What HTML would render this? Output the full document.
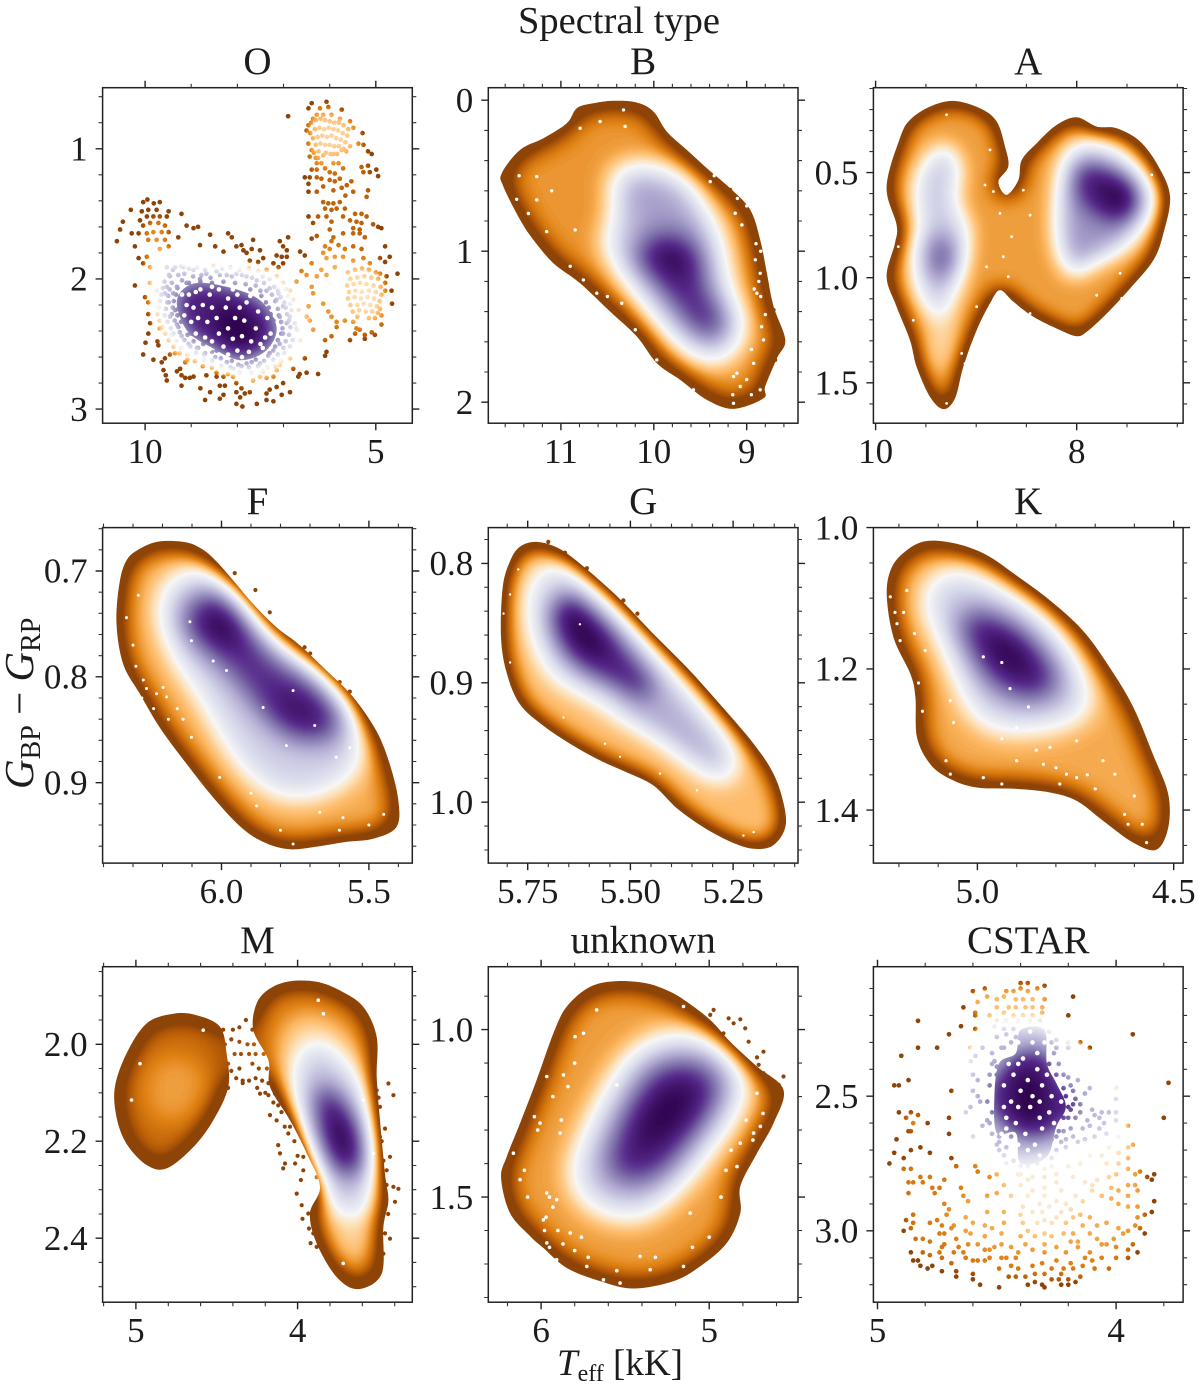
<!DOCTYPE html>
<html lang="en"><head><meta charset="utf-8"><title>Spectral type density panels</title>
<style>html,body{margin:0;padding:0;background:#fff}svg{display:block}text{font-family:"Liberation Serif",serif;fill:#1c1c1c}</style></head>
<body>
<svg id="chart" xmlns="http://www.w3.org/2000/svg" width="1200" height="1390" viewBox="0 0 1200 1390">
<defs id="defs"></defs>
<text x="619" y="33" font-size="38.5" text-anchor="middle">Spectral type</text>
<text transform="translate(33,789) rotate(-90)" font-size="41"><tspan font-style="italic">G</tspan><tspan font-size="28" dy="7">BP</tspan><tspan dy="-7"> − </tspan><tspan font-style="italic">G</tspan><tspan font-size="28" dy="7">RP</tspan></text>
<text x="557" y="1375" font-size="37"><tspan font-style="italic">T</tspan><tspan font-size="24" dy="6">eff</tspan><tspan dy="-6"> [kK]</tspan></text>
<g id="panels"></g>
</svg>
<script>
// PuOr colour map stops
const cmapStops=['#7f3b08','#b35806','#e08214','#fdb863','#fee0b6','#f7f7f7','#d8daeb','#b2abd2','#8073ac','#542788','#2d004b'];

// ---------- O ----------
const oColumn=[[6.57,.626],[5.49,.703],[4.91,1.138],[4.7,1.804],[4.62,2.419],[5.63,2.547],[6.28,2.547],[6.57,1.65]];
const oLobe=[[10.11,1.497],[9.39,1.471],[9.35,1.804],[9.96,1.855],[10.25,1.7]];
const oRing=[[10.04,1.65],[9.39,1.625],[9.24,1.83],[8.23,1.804],[7.51,1.855],[6.65,1.855],[6.36,1.727],[5.63,1.804],[5.35,1.983],[5.63,2.316],[6.21,2.419],[6.5,2.675],[7.22,2.854],[7.8,2.931],[8.23,2.777],[9.17,2.726],[9.68,2.572],[10.04,2.291],[10.18,1.907]];
const oTopSpot=[[6.46,.729],[5.49,.754],[5.35,.985],[5.92,1.113],[6.46,1.06]];
const oLink=[[6.36,1.804],[5.56,1.804],[5.35,1.983],[5.85,2.06],[6.36,1.983]];
const oRightSpot=[[5.63,1.906],[4.84,1.958],[4.73,2.239],[5.35,2.355],[5.71,2.163]];
const oPale=[[9.53,1.83],[8.95,1.881],[8.09,1.907],[7.22,1.983],[6.79,2.214],[6.65,2.47],[7.22,2.649],[8.02,2.726],[8.81,2.598],[9.39,2.47],[9.75,2.163],[9.75,1.932]];
const oCore=[[8.95,2.035],[8.23,2.06],[7.51,2.163],[7.15,2.368],[7.37,2.547],[7.94,2.624],[8.59,2.521],[9.1,2.393],[9.31,2.163]];
const oDeep=[[8.38,2.214],[7.73,2.291],[7.58,2.444],[8.02,2.521],[8.45,2.367]];
const oPoints=[[6.39,.65],[6.46,.69],[6.07,.64],[6.03,.68],[6.21,.69],[5.74,.7],[6.28,.74],[6.14,.74],[5.96,.74],[5.78,.77],[5.56,.79],[5.49,.84],[6.46,.82],[6.36,.77],[6.5,.86],[6.46,.96],[6.39,1.01],[6.43,1.06],[6.25,1.07],[6.14,1.05],[5.92,1.04],[5.74,1.01],[5.56,.98],[5.29,.88],[5.38,.96],[5.27,.97],[5.17,1.02],[5.09,1.04],[5.31,1.14],[5.17,1.13],[4.99,1.16],[4.95,1.21],[5.27,1.18],[5.13,1.18],[6.9,.75],
[6.28,1.11],[6.18,1.11],[6.1,1.15],[5.92,1.11],[5.81,1.11],[5.71,1.15],[6.39,1.16],[6.28,1.16],[6,1.18],[5.89,1.19],[6.54,1.22],[6.43,1.22],[6.28,1.22],[6.18,1.23],[6,1.24],[5.89,1.25],[5.78,1.23],[5.53,1.25],[6.46,1.27],[6.14,1.29],[5.92,1.32],[5.74,1.3],[5.63,1.28],[6.46,1.33],[6.28,1.33],[5.66,1.36],[5.49,1.33],[5.17,1.32],[5.2,1.37],
[6.14,1.41],[6.03,1.42],[5.92,1.42],[5.78,1.41],[6.1,1.46],[5.96,1.47],[5.85,1.46],[5.67,1.46],[5.45,1.5],[5.31,1.5],[5.2,1.52],[6.46,1.52],[6.25,1.52],[6.07,1.52],[5.71,1.52],[5.56,1.55],[5.42,1.56],[5.31,1.57],[6.36,1.57],[5.96,1.56],[5.49,1.61],[5.35,1.62],[5.06,1.58],[4.95,1.6],[4.88,1.61],[6.28,1.67],[6.39,1.69],[6,1.62],[5.92,1.68],[5.96,1.71],[5.71,1.65],[5.49,1.65],[5.35,1.65],[5.24,1.68],
[6.1,1.75],[6,1.77],[5.81,1.74],[5.67,1.77],[5.49,1.75],[5.31,1.77],[4.8,1.75],[6.64,1.79],[6.54,1.82],[6.14,1.8],[6.07,1.84],[5.89,1.83],[5.71,1.83],[5.49,1.86],[5.27,1.84],[5.13,1.88],[4.91,1.84],[4.7,1.83],[4.53,1.96],[4.8,1.87],
[6.39,1.88],[6.18,1.93],[6.07,1.97],[5.89,1.91],[6.61,1.94],[6.5,1.97],[6.28,1.98],[6.72,2.02],[6.39,2.06],[6.14,2.19],[6.03,2.25],[5.96,2.29],[5.85,2.33],[6.36,2.11],[6.46,2.21],[6.43,2.32],[6.36,2.39],[6.1,2.47],[5.96,2.44],[5.85,2.37],[5.67,2.32],[5.49,2.33],[5.42,2.38],[5.35,2.39],[5.24,2.43],[5.24,2.46],[5.56,2.47],[5.45,2.42],[5.09,2.41],[5.02,2.43],[4.88,2.35],[6.1,2.59],[6.07,2.56],[6.25,2.73],
[4.8,2.03],[4.8,2.09],[4.66,2.09],[4.65,2.19],[4.88,2.28],[4.91,2.23],[5.02,2.3],[4.77,1.98],[4.91,1.96],
[7.08,1.71],[6.9,1.68],[7.01,1.75],[6.93,1.78],[7.15,1.82],[7.04,1.83],[6.93,1.83],[7.01,1.88],[7.11,1.91],[7.22,1.88],[7.51,1.78],[7.66,1.7],[7.69,1.77],[7.8,1.8],[7.73,1.86],[7.55,1.87],[7.44,1.84],[8.02,1.75],[7.91,1.74],[7.87,1.78],[8.2,1.65],[8.12,1.68],[8.3,1.79],[8.48,1.75],[8.59,1.66],[8.81,1.74],[8.85,1.6],[8.95,1.61],[9.1,1.59],[9.21,1.5],[9.28,1.68],
[7.15,1.98],[7.37,1.93],[7.01,2.03],[6.86,2.09],[7.11,2.11],[6.79,2.16],[6.68,2.24],[6.5,2.29],[6.86,2.29],[6.72,2.38],[6.65,2.47],[6.86,2.52],[6.54,2.61],[6.86,2.61],[7.08,2.66],[7.15,2.7],[6.79,2.69],[6.65,2.73],[6.5,2.72],[6.68,2.75],[6.86,2.87],[7.01,2.8],[7.15,2.83],[7.3,2.85],[7.37,2.88],[7.22,2.94],[7.37,2.93],[7.58,2.96],[7.04,2.89],[7.51,2.75],[7.37,2.76],[7.66,2.78],[7.22,2.75],
[8.02,2.8],[7.91,2.84],[8.02,2.87],[7.84,2.88],[7.94,2.91],[7.73,2.87],[8.02,2.96],[7.89,2.98],[8.3,2.89],[8.38,2.92],[8.7,2.93],[8.8,2.84],[8.59,2.87],[8.38,2.82],[8.27,2.82],[8.67,2.74],[8.45,2.75],[8.3,2.75],[8.09,2.75],
[10.04,2.58],[9.99,2.49],[9.73,2.48],[9.71,2.51],[9.93,2.42],[9.82,2.62],[9.64,2.64],[9.57,2.61],[9.46,2.58],[9.35,2.57],[9.6,2.7],[9.55,2.74],[9.53,2.78],[9.31,2.71],[9.21,2.74],[9.13,2.76],[9.03,2.76],[8.95,2.75],[9.21,2.82],[9.24,2.69],[9.13,2.64],
[10.22,2.05],[10,2.14],[9.93,2.18],[9.93,2.27],[9.89,2.34],[9.68,2.38],[9.89,2.03],[9.75,2.09],[9.57,2.11],[10.14,1.84],[10.04,1.88],[9.89,1.91],[9.96,1.83],[10.22,1.75],
[10.61,1.71],[10.54,1.62],[10.48,1.56],[10.31,1.47],[10.29,1.65],[10.14,1.65],[10.04,1.41],[9.95,1.39],[9.81,1.42],[9.68,1.41],[10.07,1.48],[9.93,1.47],[9.75,1.47],[9.49,1.48],[10.11,1.55],[9.96,1.52],[9.82,1.52],[9.68,1.52],[9.53,1.52],[10.04,1.59],[9.89,1.57],[9.71,1.57],[9.57,1.59],[9.96,1.65],[9.82,1.64],[9.64,1.64],[9.49,1.64],[9.93,1.7],[9.75,1.7],[9.57,1.7],[9.68,1.77],[9.49,1.75],
[9.53,1.91],[9.35,1.91],[9.17,1.91],[8.95,1.93],[9.46,1.98],[9.28,1.97],[9.53,2.06],[9.39,2.11],[9.49,2.18],[9.35,2.24],[9.46,2.29],[9.31,2.35],[9.39,2.42],[9.21,2.44],[9.06,2.5],[8.88,2.53],[8.7,2.57],[8.48,2.6],[8.23,2.64],[8.09,2.69],[7.91,2.67],[7.69,2.64],[7.51,2.65],[7.33,2.59],[7.22,2.55],[7.08,2.5],[7.01,2.42],[6.93,2.34],[7.08,2.29],[7.01,2.21],[7.15,2.16],[7.37,2.09],[7.58,2.01],[7.8,1.98],[8.02,1.96],[8.23,1.97],[8.45,1.94],[8.67,1.96],[8.81,2],[9.1,2.03],[9.31,2.06],[9.24,2.24],[9.17,2.32],[8.99,2.42],[8.74,2.5],[8.45,2.55],[8.16,2.57],[7.8,2.65]];
const oRingPoints=[[9.4,1.93],[9.22,1.9],[9.05,1.92],[8.87,1.91],[8.7,1.93],[8.52,1.9],[8.33,1.92],[8.15,1.91],[7.95,1.93],[7.75,1.92],[7.55,1.94],
[9.48,1.97],[9.15,1.96],[8.96,1.98],[8.78,1.97],[8.58,1.99],[8.38,1.97],[8.12,1.98],[7.9,1.97],[7.68,1.99],[7.45,1.98],[7.3,2],
[9.58,2.02],[9.42,2.03],[9.2,2.01],[9.05,2.03],[8.8,2.02],[8.55,2.03],[8.3,2.02],[8.05,2.03],[7.82,2.04],[7.6,2.05],[7.42,2.03],[7.2,2.06],
[9.62,2.07],[9.47,2.08],[9.3,2.07],[9.12,2.09],[7.72,2.08],[7.5,2.09],[7.3,2.07],[7.12,2.09],[6.95,2.08],
[9.65,2.12],[9.5,2.13],[9.33,2.12],[7.48,2.13],[7.25,2.12],[7.06,2.14],[6.9,2.13],
[9.68,2.17],[9.52,2.18],[9.38,2.17],[7.38,2.18],[7.18,2.17],[6.98,2.18],[6.85,2.19],
[9.7,2.22],[9.55,2.23],[9.4,2.22],[9.28,2.23],[7.32,2.22],[7.12,2.23],[6.95,2.22],[6.82,2.24],
[9.72,2.27],[9.58,2.28],[9.42,2.27],[9.3,2.28],[7.28,2.27],[7.1,2.28],[6.92,2.27],
[9.68,2.32],[9.52,2.33],[9.36,2.32],[9.22,2.33],[7.22,2.32],[7.05,2.33],[6.88,2.32],[6.75,2.34],
[9.62,2.37],[9.45,2.38],[9.28,2.37],[7.02,2.38],[6.85,2.37],[6.7,2.39],
[9.55,2.42],[9.42,2.43],[9.25,2.41],[9.08,2.43],[7.05,2.42],[6.88,2.43],
[9.48,2.47],[9.32,2.48],[9.15,2.47],[8.95,2.48],[7.12,2.47],[6.95,2.48],[6.8,2.47],
[9.38,2.52],[9.22,2.53],[9.02,2.52],[8.85,2.53],[7.18,2.52],[7,2.53],[6.85,2.52],
[9.25,2.57],[9.08,2.58],[8.9,2.57],[8.72,2.58],[8.55,2.56],[7.3,2.57],[7.12,2.58],[6.98,2.57],
[9.08,2.62],[8.92,2.63],[8.72,2.62],[8.55,2.63],[8.36,2.61],[8.12,2.63],[7.6,2.62],[7.42,2.63],[7.22,2.62],[7.05,2.63],
[8.75,2.67],[8.55,2.68],[8.35,2.67],[8.15,2.68],[7.98,2.66],[7.75,2.68],[7.55,2.67],[7.35,2.68],[7.18,2.67],
[8.45,2.72],[8.2,2.73],[7.95,2.72],[7.7,2.72],[7.45,2.71]];
const oCapPoints=[[6.4,.8],[6.3,.78],[6.2,.77],[6.1,.78],[6,.79],[5.9,.8],[5.8,.8],[5.7,.82],[5.6,.85],[6.42,.88],[6.32,.85],[6.22,.84],[6.12,.85],[6.02,.84],[5.92,.85],[5.82,.86],[5.72,.88],[5.62,.9],[6.36,.92],[6.26,.91],[6.16,.9],[6.06,.91],[5.96,.9],[5.86,.92],[5.76,.93],[5.66,.95],[6.3,.97],[6.2,.96],[6.1,.97],[6,.97],[5.9,.98],[5.8,.98],[5.7,1],[6.34,1.03],[6.24,1.02],[6.08,1.03],[5.98,1.04],[5.84,1.04],[5.64,1.02],[6.3,1.07]];
const oSpotPoints=[[5.6,1.95],[5.45,1.93],[5.3,1.92],[5.15,1.93],[5,1.95],[5.55,2],[5.4,1.99],[5.25,1.98],[5.1,1.99],[4.95,2],[5.62,2.05],[5.48,2.04],[5.34,2.03],[5.2,2.04],[5.05,2.05],[4.9,2.06],[5.58,2.1],[5.44,2.09],[5.3,2.1],[5.15,2.09],[5,2.1],[4.88,2.12],[5.6,2.15],[5.46,2.14],[5.32,2.15],[5.18,2.14],[5.04,2.15],[4.92,2.17],[5.55,2.2],[5.4,2.2],[5.26,2.19],[5.12,2.2],[4.98,2.21],[5.5,2.25],[5.36,2.24],[5.22,2.25],[5.08,2.25],[4.96,2.26],[5.4,2.29],[5.15,2.3]];
const oSpecks=[[8.9,2.1],[8.75,2.2],[8.6,2.12],[8.4,2.08],[8.2,2.15],[8,2.12],[7.8,2.18],[7.55,2.25],[8.85,2.3],[8.65,2.33],[8.45,2.3],[8.25,2.22],[8.05,2.3],[7.85,2.32],[7.6,2.38],[8.7,2.45],[8.4,2.42],[8.2,2.38],[8.1,2.46],[7.9,2.44],[7.7,2.48],[8.95,2.22],[9,2.33],[8.55,2.22],[7.4,2.45],[7.95,2.22],[8.3,2.52],[7.75,2.56],[8,2.55],[7.5,2.5],[8.55,2.48],[9.1,2.2],[9.2,2.12],[9.05,2.12],[8.8,2.08],[8.55,2.06],[8.1,2.08],[7.72,2.13],[7.35,2.3],[7.28,2.42],[7.45,2.53],[7.9,2.6],[8.2,2.58],[8.6,2.54],[8.9,2.42],[9.15,2.28]];

// ---------- B ----------
const bEdge=[[10.434,.004],[10.183,.015],[10.004,.075],[9.86,.208],[9.645,.329],[9.429,.45],[9.178,.583],[8.962,.726],[8.855,.925],[8.783,1.146],[8.711,1.366],[8.585,1.587],[8.675,1.709],[8.801,1.896],[8.819,1.974],[9.142,2.044],[9.429,1.985],[9.716,1.852],[9.968,1.742],[10.183,1.565],[10.47,1.4],[10.794,1.212],[11.081,1.079],[11.296,.925],[11.44,.792],[11.619,.572],[11.637,.483],[11.44,.329],[11.189,.252],[10.937,.152],[10.829,.053],[10.65,.02]];
const bWhite=[[10.183,.435],[9.86,.472],[9.609,.572],[9.429,.748],[9.285,.925],[9.178,1.256],[9.052,1.477],[9.142,1.653],[9.357,1.731],[9.645,1.653],[9.932,1.477],[10.183,1.278],[10.399,1.102],[10.524,.925],[10.434,.804],[10.417,.682],[10.434,.528],[10.345,.45]];
const bLobe=[[10.183,.506],[9.86,.528],[9.609,.682],[9.429,.925],[9.968,.903],[10.255,.792],[10.327,.594]];
const bCore=[[10.075,.903],[9.716,.903],[9.465,1.035],[9.429,1.234],[9.214,1.455],[9.285,1.565],[9.537,1.554],[9.824,1.344],[10.039,1.19],[10.219,1.035]];
const bDeep=[[10.004,.969],[9.716,.947],[9.537,1.035],[9.645,1.146],[9.968,1.102]];
const bSpecks=[[11.476,.656],[11.26,.66],[11.153,.87],[10.847,.859],[10.578,.141],[10.309,.174],[9.393,.539],[9.124,.748],[9.052,.826],[8.908,1.057],[8.89,1.278],[8.819,1.587],[8.926,1.742],[9.106,1.808],[8.855,1.918],[9.142,2.007],[10.345,1.344],[10.614,1.278],[10.758,1.19],[9.968,1.72],[9.573,1.918],[11.26,.506],[10.327,.064],[10.794,.185],[8.855,1.146],[9.142,1.83],[9.07,1.896],[8.85,1],[8.9,.95],[8.87,1.2],[8.92,1.25],[8.85,1.3],[8.8,1.42],[8.84,1.5],[8.95,1.65],[9,1.85],[8.95,1.95],[9.15,1.95],[9,.7],[9.1,.65],[9.35,.5],[10.1,1.7],[10.2,1.52],[10.5,1.3],[10.9,1.1],[11.35,.75],[11.1,.6],[11.45,.5]];
const bStrays=[[8.639,1.543],[8.693,1.72],[8.711,1.389],[9.178,.594]];

// ---------- A ----------
const aEdge=[[9.227,.159],[8.962,.194],[8.796,.257],[8.713,.376],[8.68,.471],[8.779,.543],[8.697,.606],[8.58,.535],[8.547,.44],[8.398,.36],[8.199,.273],[8,.237],[7.801,.281],[7.602,.289],[7.37,.352],[7.187,.471],[7.071,.614],[7.138,.789],[7.237,.916],[7.469,1.051],[7.701,1.17],[7.9,1.257],[8,1.278],[8.166,1.249],[8.431,1.186],[8.63,1.114],[8.763,1.059],[8.862,1.122],[8.995,1.249],[9.128,1.424],[9.211,1.575],[9.327,1.625],[9.459,1.567],[9.592,1.424],[9.658,1.297],[9.791,1.138],[9.891,.995],[9.808,.837],[9.791,.749],[9.891,.567],[9.758,.336],[9.658,.249],[9.459,.186]];
const aTail=[[9.459,1.186],[9.227,1.186],[9.294,1.424],[9.426,1.424]];
const aWhiteLeft=[[9.31,.376],[9.177,.471],[9.211,.63],[9.095,.773],[9.144,.948],[9.227,1.09],[9.376,1.186],[9.559,1.075],[9.609,.916],[9.559,.757],[9.592,.614],[9.559,.503],[9.426,.408]];
const aSpot=[[9.343,.789],[9.177,.868],[9.227,.979],[9.41,1.011],[9.509,.916],[9.459,.813]];
const aWhiteRight=[[7.934,.36],[7.635,.392],[7.37,.503],[7.254,.63],[7.37,.773],[7.569,.868],[7.834,.932],[8.033,.987],[8.166,.884],[8.199,.725],[8.166,.519],[8.1,.416]];
const aLobe=[[8.033,.503],[7.536,.71],[7.569,.805],[7.867,.884],[8.033,.916],[8.1,.757]];
const aCore=[[7.967,.456],[7.635,.479],[7.403,.567],[7.386,.678],[7.569,.741],[7.834,.694],[8,.598]];
const aDeep=[[7.735,.551],[7.469,.583],[7.502,.678],[7.735,.646]];
const aSpecks=[[9.294,.225],[8.862,.392],[8.912,.559],[8.829,.59],[8.531,.583],[8.763,.694],[8.647,.805],[8.73,.9],[8.68,.995],[8.464,.702],[8.896,.948],[9.144,1.36],[9.111,1.408],[8.995,1.138],[8.464,1.17],[7.801,1.083],[7.569,.979],[7.552,1.098],[7.254,.511],[9.625,1.202],[9.294,1.598],[9.774,.852]];

// ---------- F ----------
const fEdge=[[6.209,.672],[6.119,.673],[6.062,.68],[6.017,.691],[5.96,.709],[5.893,.731],[5.814,.753],[5.735,.77],[5.644,.794],[5.554,.819],[5.475,.851],[5.43,.882],[5.4,.917],[5.407,.942],[5.486,.953],[5.577,.956],[5.667,.96],[5.769,.963],[5.859,.956],[5.938,.941],[6.028,.914],[6.119,.882],[6.209,.848],[6.277,.816],[6.333,.788],[6.356,.75],[6.346,.712],[6.322,.69],[6.277,.679]];
const fWhite=[[6.085,.699],[6.017,.704],[5.938,.725],[5.859,.753],[5.769,.775],[5.667,.794],[5.577,.822],[5.537,.854],[5.537,.882],[5.599,.901],[5.701,.912],[5.791,.912],[5.881,.898],[5.96,.873],[6.028,.841],[6.085,.813],[6.141,.791],[6.198,.753],[6.203,.725],[6.158,.706]];
const fCore=[[6.073,.721],[5.983,.723],[5.904,.747],[5.814,.781],[5.701,.8],[5.611,.826],[5.588,.851],[5.667,.863],[5.78,.857],[5.87,.835],[5.96,.803],[6.04,.781],[6.113,.762],[6.135,.74]];
const fDeepA=[[6.06,.735],[5.98,.735],[5.93,.76],[5.98,.772],[6.06,.76]];
const fDeepB=[[5.8,.815],[5.68,.825],[5.66,.845],[5.74,.848],[5.82,.832]];
const fSpecks=[[6.107,.748],[6.102,.766],[6.028,.785],[5.983,.794],[5.859,.829],[5.757,.813],[5.684,.846],[5.78,.865],[5.611,.876],[5.565,.867],[6.198,.81],[6.254,.811],[6.102,.857],[6.322,.744],[6.282,.723],[6.006,.895],[5.881,.922],[5.757,.958],[5.588,.933],[5.667,.928],[6.186,.819],[6.22,.816],[6.265,.803],[6.15,.83],[6.13,.84],[6.27,.82],[6.23,.83],[6.18,.84],[6.29,.79],[6.3,.77],[5.9,.91],[5.8,.945],[5.6,.945],[5.5,.94],[5.45,.93]];
const fStrays=[[5.955,.702],[5.885,.718],[5.836,.739],[5.718,.772],[5.699,.778],[5.565,.814],[5.599,.805]];

// ---------- G ----------
const gEdge=[[5.728,.782],[5.671,.788],[5.606,.805],[5.525,.83],[5.444,.859],[5.363,.887],[5.282,.918],[5.2,.951],[5.152,.976],[5.127,1.001],[5.123,1.021],[5.152,1.036],[5.2,1.039],[5.257,1.033],[5.322,1.021],[5.387,1.005],[5.444,.986],[5.509,.975],[5.574,.965],[5.647,.951],[5.712,.936],[5.769,.918],[5.801,.892],[5.815,.862],[5.811,.82],[5.793,.798],[5.769,.786]];
const gWhite=[[5.679,.802],[5.631,.809],[5.558,.831],[5.485,.856],[5.403,.887],[5.322,.92],[5.257,.951],[5.245,.973],[5.282,.982],[5.338,.972],[5.42,.951],[5.509,.932],[5.606,.912],[5.688,.895],[5.732,.867],[5.748,.837],[5.732,.812]];
const gLobe=[[5.444,.898],[5.363,.926],[5.298,.954],[5.282,.971],[5.338,.962],[5.444,.937],[5.525,.92]];
const gCore=[[5.663,.824],[5.606,.834],[5.541,.856],[5.485,.879],[5.436,.904],[5.485,.911],[5.558,.901],[5.631,.887],[5.679,.867],[5.696,.842]];
const gDeep=[[5.663,.837],[5.606,.842],[5.55,.867],[5.59,.879],[5.647,.865]];
const gSpecks=[[5.793,.883],[5.773,.805],[5.562,.951],[5.525,.962],[5.338,.99],[5.225,1.028],[5.2,1.025],[5.663,.929],[5.793,.826],[5.623,.851],[5.809,.842],[5.428,.976]];
const gStrays=[[5.7,.782],[5.606,.804],[5.517,.831],[5.483,.842],[5.659,.791]];

// ---------- K ----------
const kEdge=[[5.129,1.019],[5.053,1.023],[4.976,1.039],[4.9,1.068],[4.815,1.103],[4.731,1.146],[4.663,1.198],[4.603,1.254],[4.553,1.321],[4.514,1.377],[4.514,1.425],[4.544,1.456],[4.603,1.446],[4.68,1.415],[4.747,1.387],[4.815,1.375],[4.9,1.37],[5.002,1.368],[5.069,1.356],[5.12,1.335],[5.154,1.297],[5.158,1.24],[5.171,1.207],[5.214,1.155],[5.231,1.094],[5.218,1.056],[5.18,1.032]];
const kWhite=[[5.069,1.063],[5.002,1.068],[4.917,1.094],[4.832,1.127],[4.764,1.174],[4.722,1.226],[4.722,1.259],[4.781,1.278],[4.866,1.287],[4.951,1.285],[5.01,1.264],[5.044,1.226],[5.086,1.169],[5.129,1.117],[5.12,1.079]];
const kCore=[[5.027,1.115],[4.951,1.122],[4.875,1.15],[4.807,1.193],[4.79,1.226],[4.841,1.245],[4.917,1.24],[4.976,1.217],[5.019,1.179],[5.048,1.141]];
const kDeep=[[4.968,1.146],[4.9,1.155],[4.849,1.188],[4.875,1.212],[4.942,1.198],[4.981,1.169]];
const kSpecks=[[5.188,1.12],[5.18,1.089],[5.133,1.174],[5.069,1.245],[5.061,1.276],[4.917,1.228],[4.87,1.254],[4.985,1.183],[4.938,1.191],[4.938,1.299],[4.832,1.335],[4.815,1.311],[4.773,1.349],[4.747,1.354],[4.79,1.363],[4.65,1.349],[4.625,1.406],[4.616,1.42],[4.569,1.446],[4.938,1.363],[4.985,1.354],[5.069,1.349],[5.205,1.136],[4.747,1.302],[4.9,1.283],[5.222,1.098],[5.197,1.16],[4.72,1.35],[4.7,1.37],[4.68,1.33],[4.8,1.34],[4.6,1.38],[4.58,1.42],[4.9,1.33],[5.15,1.22],[5.14,1.26],[5.16,1.15],[5.21,1.12],[4.85,1.315],[5.08,1.33]];

// ---------- M ----------
const mLeftBlob=[[4.769,1.937],[4.625,1.94],[4.48,1.964],[4.439,2.019],[4.429,2.088],[4.522,2.157],[4.645,2.212],[4.81,2.256],[4.934,2.249],[5.058,2.205],[5.12,2.15],[5.13,2.088],[5.058,2.019],[4.934,1.957]];
const mLeftInner=[[4.769,2.019],[4.604,2.04],[4.563,2.088],[4.666,2.15],[4.831,2.164],[4.934,2.129],[4.944,2.067],[4.872,2.033]];
const mMain=[[4.047,1.87],[3.882,1.871],[3.738,1.889],[3.594,1.923],[3.511,1.985],[3.511,2.067],[3.491,2.157],[3.46,2.267],[3.439,2.322],[3.47,2.377],[3.48,2.473],[3.625,2.505],[3.759,2.48],[3.882,2.411],[3.924,2.349],[3.862,2.294],[3.944,2.225],[4.047,2.157],[4.171,2.088],[4.181,2.033],[4.274,1.971],[4.254,1.916],[4.171,1.885]];
const mBridge=[[4.46,1.964],[4.315,1.951],[4.212,1.999],[4.171,2.04],[4.212,2.074],[4.336,2.078],[4.429,2.074],[4.47,2.04],[4.491,1.999]];
const mCream=[[3.944,1.937],[3.759,1.957],[3.594,2.033],[3.532,2.17],[3.522,2.363],[3.573,2.432],[3.676,2.452],[3.79,2.404],[3.841,2.329],[3.924,2.239],[4.068,2.115],[4.13,2.026],[4.068,1.957]];
const mWhite=[[3.882,1.999],[3.738,2.033],[3.614,2.088],[3.553,2.17],[3.532,2.274],[3.594,2.335],[3.676,2.353],[3.8,2.322],[3.882,2.267],[3.965,2.184],[4.006,2.088],[3.986,2.033]];
const mCore=[[3.841,2.081],[3.697,2.122],[3.594,2.191],[3.594,2.253],[3.697,2.277],[3.821,2.232],[3.882,2.164],[3.893,2.102]];
const mDeep=[[3.8,2.136],[3.697,2.164],[3.645,2.212],[3.728,2.239],[3.81,2.191]];
const mStrays=[[4.233,2.102],[4.181,2.105],[4.14,2.102],[4.12,2.126],[4.171,2.146],[4.13,2.157],[4.047,2.17],[4.058,2.184],[4.12,2.208],[4.109,2.225],[4.078,2.246],[4.089,2.256],[4.016,2.246],[3.965,2.232],[3.965,2.26],[3.882,2.274],[4.006,2.308],[3.975,2.332],[3.934,2.349],[3.903,2.37],[3.903,2.39],[3.882,2.418],[3.439,2.081],[3.408,2.105],[3.511,2.095],[3.491,2.129],[3.46,2.174],[3.429,2.232],[3.408,2.294],[3.377,2.298],[3.398,2.325],[3.429,2.401],[3.47,2.432],[3.47,2.342],[3.491,2.191],[3.449,2.26],
[4.46,1.97],[4.4,1.97],[4.36,1.965],[4.32,1.95],[4.28,1.97],[4.45,2],[4.41,1.99],[4.36,1.995],[4.31,2],[4.27,2],[4.22,1.99],[4.48,2.02],[4.43,2.04],[4.39,2.02],[4.35,2.02],[4.3,2.02],[4.26,2.02],[4.21,2.02],[4.17,2.03],[4.46,2.05],[4.41,2.055],[4.36,2.05],[4.28,2.04],[4.24,2.05],[4.19,2.05],[4.44,2.07],[4.38,2.07],[4.34,2.075],[4.3,2.075],[4.26,2.07],[4.22,2.075],[4.18,2.08],[4.43,2.09],[4.34,2.08],[4.25,2.09],[4.2,2.1],[4.15,2.12],[4.1,2.14],[4.08,2.17],[4.02,2.2],[4,2.23],[3.98,2.28],[3.97,2.36],[3.93,2.38],[3.92,2.41],[3.48,2.2],[3.47,2.24],[3.45,2.29],[3.44,2.35],[3.46,2.39],[3.49,2.47],[3.52,2.09],[3.5,2.11]];
const mSpecks=[[4.975,2.04],[5.027,2.115],[3.841,1.937],[3.872,1.909],[3.594,2.115],[3.532,2.225],[3.718,2.452],[4.584,1.971]];

// ---------- unknown ----------
const uEdge=[[5.55,.855],[5.371,.862],[5.232,.887],[5.133,.917],[4.994,.971],[4.875,1.036],[4.716,1.11],[4.558,1.18],[4.617,1.279],[4.716,1.369],[4.815,1.468],[4.815,1.548],[4.895,1.637],[5.054,1.707],[5.212,1.751],[5.45,1.773],[5.649,1.751],[5.847,1.712],[5.986,1.652],[6.065,1.617],[6.185,1.548],[6.238,1.443],[6.204,1.379],[6.125,1.279],[6.026,1.15],[5.927,1.011],[5.847,.931],[5.708,.872]];
const uWhite=[[5.173,1.016],[4.974,1.036],[4.835,1.1],[4.786,1.17],[4.855,1.259],[4.994,1.359],[5.153,1.458],[5.331,1.538],[5.47,1.563],[5.669,1.538],[5.788,1.478],[5.808,1.409],[5.728,1.299],[5.609,1.18],[5.49,1.09],[5.351,1.036]];
const uCore=[[5.212,1.09],[5.034,1.1],[4.925,1.16],[4.974,1.24],[5.133,1.349],[5.292,1.439],[5.49,1.463],[5.619,1.418],[5.569,1.309],[5.45,1.19],[5.351,1.12]];
const uDeep=[[5.212,1.16],[5.073,1.17],[5.113,1.269],[5.292,1.339],[5.411,1.359],[5.431,1.279],[5.331,1.2]];
const uSpecks=[[5.798,1.021],[5.867,1.135],[5.748,1.011],[5.966,1.14],[6.006,1.279],[5.887,1.309],[5.966,1.488],[5.907,1.508],[5.986,1.568],[5.827,1.607],[5.966,1.637],[5.907,1.687],[5.728,1.707],[5.629,1.747],[5.53,1.757],[5.351,1.717],[5.153,1.707],[4.736,1.309],[4.815,1.339],[4.696,1.289],[4.716,1.19],[5.153,.931],[5.669,.941],[5.55,1.165],[6.125,1.448],[6.165,1.369],[5.113,1.548],[4.835,1.409],[5.411,1.677],[5.95,1.5],[5.93,1.53],[5.97,1.56],[5.9,1.6],[5.87,1.64],[5.8,1.66],[5.76,1.62],[5.72,1.68],[5.95,1.65],[5.98,1.6],[6.1,1.42],[6.08,1.5],[6.02,1.3],[6.04,1.26],[5.93,1.2],[5.88,1.27],[5.8,1.1],[5.84,1.17],[4.78,1.27],[4.74,1.33],[4.87,1.36],[4.9,1.42],[4.93,1.5],[4.68,1.25],[5,1.62],[5.1,1.65],[5.32,1.68],[5.55,1.72]];
const uStrays=[[4.994,.956],[4.885,.966],[4.815,.969],[4.786,.996],[4.855,.981],[4.974,.941],[4.766,1.036],[4.716,1.083],[4.677,1.066],[4.706,1.105],[4.558,1.14],[4.587,1.165],[4.677,1.13],[4.915,1.011]];

// ---------- CSTAR ----------
const cLower=[[4.93,2.712],[4.42,2.712],[3.94,2.588],[3.84,2.835],[3.86,3.021],[3.98,3.182],[4.29,3.219],[4.65,3.182],[4.88,3.095],[4.93,2.897]];
const cMiddle=[[4.65,2.873],[3.94,2.736],[3.89,2.96],[4.08,3.072],[4.43,3.084],[4.65,3.022]];
const cCream=[[4.46,2.712],[3.95,2.613],[3.95,2.712],[4.07,2.848],[4.18,2.935],[4.29,3.01],[4.4,2.96],[4.46,2.824]];
const cTop=[[4.63,2.093],[4.28,2.068],[4.28,2.254],[4.51,2.254],[4.65,2.18]];
const cLeft=[[4.93,2.538],[4.77,2.551],[4.79,2.65],[4.89,2.662]];
const cPale=[[4.54,2.242],[4.23,2.254],[3.98,2.452],[3.97,2.6],[4.21,2.712],[4.51,2.736],[4.68,2.613],[4.64,2.34]];
const cCore=[[4.42,2.34],[4.29,2.34],[4.23,2.439],[4.14,2.526],[4.21,2.6],[4.3,2.65],[4.4,2.65],[4.51,2.575],[4.53,2.464]];
const cDeep=[[4.42,2.427],[4.32,2.439],[4.31,2.575],[4.41,2.575]];
const cDense=[[4.4,2.254],[4.3,2.254],[4.29,2.378],[4.25,2.452],[4.21,2.538],[4.25,2.613],[4.29,2.724],[4.4,2.749],[4.42,2.637],[4.5,2.637],[4.51,2.501],[4.49,2.378],[4.42,2.34]];
const cPoints=[[4.6,2.11],[4.55,2.1],[4.58,2.15],[4.54,2.13],[4.64,2.17],[4.59,2.19],[4.59,2.2],[4.5,2.14],[4.5,2.17],[4.53,2.2],[4.5,2.22],[4.51,2.24],[4.46,2.11],[4.43,2.11],[4.4,2.08],[4.37,2.08],[4.4,2.1],[4.37,2.11],[4.3,2.09],[4.33,2.1],[4.47,2.13],[4.42,2.14],[4.39,2.14],[4.35,2.14],[4.3,2.14],[4.45,2.17],[4.42,2.17],[4.38,2.17],[4.35,2.17],[4.31,2.17],[4.47,2.19],[4.43,2.2],[4.39,2.2],[4.35,2.2],[4.31,2.19],[4.46,2.22],[4.41,2.22],[4.36,2.22],[4.32,2.22],
[4.18,2.13],[4.2,2.2],[3.93,2.27],[4.83,2.22],[4.7,2.27],[4.65,2.24],[4.59,2.25],[4.83,2.32],[4.75,2.32],[4.9,2.35],[4.87,2.44],[4.93,2.46],[4.91,2.46],[3.78,2.45],[3.8,2.58],
[4.25,2.29],[4.25,2.32],[4.2,2.3],[4.2,2.32],[4.15,2.3],[4.11,2.32],[4.61,2.32],[4.56,2.32],[4.59,2.35],[4.61,2.37],[4.6,2.42],[4.58,2.44],[4.69,2.48],[4.6,2.48],[4.58,2.5],[4.57,2.52],[4.61,2.54],[4.63,2.56],[4.53,2.42],[4.54,2.59],[4.56,2.61],[4.7,2.58],[4.6,2.65],
[4.2,2.43],[4.16,2.44],[4.11,2.47],[4.19,2.46],[4.18,2.53],[4.15,2.53],[4.2,2.58],[4.2,2.54],[4.12,2.59],[4.1,2.55],[4.09,2.57],[4.06,2.56],[4,2.47],[4,2.51],[4,2.56],[4,2.59],[4.22,2.63],[4.19,2.62],[4.18,2.65],[4.25,2.65],[4.23,2.67],[4.16,2.67],[4.11,2.61],[4.09,2.65],[4.07,2.62],[4.05,2.6],[4.29,2.7],
[3.95,2.61],[3.99,2.65],[4.03,2.69],[4.06,2.72],[4.11,2.72],[4.04,2.75],[3.99,2.71],[3.95,2.69],[3.93,2.68],[3.95,2.73],[3.99,2.75],[3.95,2.77],[4,2.79],[3.9,2.78],[3.84,2.79],[3.87,2.8],[3.85,2.81],[3.92,2.79],
[4.08,2.81],[4.1,2.83],[4.1,2.85],[4.06,2.87],[4.03,2.8],[4.02,2.84],[3.99,2.85],[4.02,2.88],[3.95,2.83],[3.92,2.83],[3.95,2.87],[3.91,2.85],[3.99,2.9],[3.95,2.91],[3.91,2.91],[3.84,2.89],[3.85,2.93],[3.88,2.94],[3.91,2.95],[3.92,2.98],[3.9,2.99],[3.88,3.01],
[3.95,3],[3.99,2.99],[3.97,3.01],[4.01,3.03],[4.04,3.05],[4,3.06],[3.93,3.05],[3.95,3.07],[3.91,3.08],[3.95,3.1],[4,3.1],[4.06,3.1],[4.03,3.14],[4.09,3.14],[4.14,3.13],
[4.4,2.79],[4.37,2.81],[4.4,2.83],[4.35,2.85],[4.3,2.84],[4.3,2.87],[4.25,2.82],[4.23,2.85],[4.21,2.9],[4.25,2.89],[4.19,2.92],[4.23,2.93],[4.39,2.91],[4.35,2.93],[4.31,2.93],[4.4,2.94],[4.39,2.97],[4.33,2.97],[4.3,2.96],[4.27,2.97],[4.3,3.01],[4.21,2.97],[4.18,2.95],[4.15,2.94],[4.11,2.95],[4.14,2.98],[4.08,2.98],[4.04,2.97],[4.22,3.01],[4.19,3.04],[4.16,3.04],[4.11,3.01],[4.37,3],
[4.38,3.05],[4.35,3.07],[4.3,3.05],[4.3,3.08],[4.25,3.06],[4.21,3.08],[4.16,3.06],[4.11,3.08],[4.42,3.1],[4.46,3.1],[4.35,3.13],[4.31,3.12],[4.25,3.11],[4.22,3.14],[4.19,3.12],[4.34,3.16],[4.3,3.16],[4.27,3.14],[4.23,3.16],[4.45,3.17],[4.38,3.17],[4.24,3.18],[4.2,3.18],[4.15,3.17],[4.31,3.2],[4.37,3.2],[4.23,3.2],[4.2,3.2],[4.17,3.19],[4.49,3.21],[4.3,3.21],
[4.95,2.75],[4.93,2.71],[4.92,2.66],[4.89,2.73],[4.86,2.7],[4.82,2.69],[4.78,2.71],[4.89,2.77],[4.86,2.77],[4.87,2.82],[4.85,2.82],[4.82,2.8],[4.81,2.82],[4.78,2.8],[4.72,2.81],[4.87,2.86],[4.77,2.84],[4.74,2.84],[4.76,2.86],[4.65,2.84],[4.64,2.87],[4.72,2.9],[4.7,2.92],[4.62,2.89],[4.71,2.94],[4.88,2.96],[4.85,2.94],[4.85,2.97],[4.89,3],[4.86,2.99],[4.78,2.97],[4.75,2.96],[4.73,2.98],[4.74,3.01],[4.69,2.99],[4.68,2.98],[4.84,3.03],[4.81,3.03],[4.78,3.04],[4.72,3.01],[4.72,3.05],[4.73,3.06],
[4.86,3.08],[4.74,3.08],[4.85,3.11],[4.83,3.11],[4.73,3.1],[4.82,3.13],[4.79,3.14],[4.77,3.13],[4.73,3.15],[4.69,3.12],[4.67,3.15],[4.67,3.17],
[4.67,3.03],[4.66,3.06],[4.64,3.08],[4.63,3.1],[4.6,3.11],[4.58,3.11],[4.6,3.16],[4.6,3.18],[4.57,3.2],[4.63,3],[4.61,3.01],[4.58,3.05],[4.55,3.07],[4.53,3.07],[4.51,3.06],[4.53,3.1],[4.55,3.11],[4.48,3.1],[4.49,3.14],[4.44,3.13],[4.41,3.14],[4.6,2.97],[4.55,2.98],[4.52,2.99],[4.47,2.97],[4.48,3.01],[4.54,2.93],[4.47,2.93],[4.63,2.95],[4.48,3.05],
[4.58,2.78],[4.53,2.8],[4.5,2.79],[4.41,2.79],[4.5,2.86],[4.47,2.83],[4.44,2.87],[4.54,2.87],[4.69,2.73],[4.67,2.76],[4.59,2.76],
[4.91,2.56],[4.86,2.56],[4.83,2.57],[4.88,2.58],[4.85,2.6],[4.86,2.63],[4.87,2.63],[4.79,2.6],[4.7,2.64],
[4.49,2.67],[4.46,2.69],[4.49,2.7],[4.44,2.65],[4.49,2.65],[4.5,2.28],[4.46,2.27],[4.47,2.32],[4.44,2.3],[4.51,2.37],[4.5,2.39]];
const cExtraPoints=[[4.52,2.38],[4.5,2.42],[4.53,2.46],[4.5,2.5],[4.54,2.52],[4.52,2.56],[4.49,2.6],[4.53,2.6],[4.5,2.68],[4.47,2.72],[4.52,2.64],[4.46,2.75],[4.43,2.74],[4.48,2.32],[4.52,2.34],[4.42,2.28],[4.43,2.25],[4.47,2.25],[4.28,2.26],[4.27,2.3],[4.26,2.34],[4.28,2.38],[4.24,2.38],[4.22,2.42],[4.25,2.42],[4.22,2.47],[4.18,2.48],[4.21,2.5],[4.17,2.51],[4.19,2.55],[4.15,2.56],[4.22,2.58],[4.17,2.58],[4.24,2.63],[4.21,2.66],[4.27,2.66],[4.25,2.7],[4.21,2.69],[4.27,2.73],[4.13,2.49],[4.14,2.62],[4.13,2.66],[4.07,2.58],[4.04,2.64],[4.03,2.56],[4.33,2.75],[4.37,2.76],[4.3,2.77],[4.27,2.76],[4.4,2.76],[4.35,2.8],[4.3,2.8],[4.25,2.79],[4.2,2.76],[4.18,2.8],[4.15,2.75],[4.13,2.82],[4.17,2.87],[4.14,2.89],[4.28,2.91],[4.32,2.9],[4.37,2.87],[4.25,2.95],[4.34,3.02],[4.27,3.02],[4.18,3.01],[4.08,3.03],[4.4,3.02],[4.55,3.02],[4.62,3.05],[4.68,3.08],[4.78,3.09],[4.81,3.08],[4.44,3.06],[4.41,3.08],[4.13,3.1],[4.06,3.05],[4.1,3.11],[4.18,3.14],[4.27,3.18],[4.34,3.19],[4.42,3.17]];
const cSpecks=[[4.47,2.46],[4.44,2.52],[4.46,2.58],[4.43,2.42],[4.39,2.36],[4.35,2.3],[4.37,2.44],[4.33,2.4],[4.31,2.46],[4.27,2.5],[4.36,2.54],[4.32,2.58],[4.28,2.56],[4.38,2.64],[4.34,2.68],[4.31,2.62],[4.36,2.26],[4.33,2.34],[4.3,2.3],[4.42,2.6],[4.4,2.48],[4.35,2.5],[4.45,2.38],[4.48,2.64],[4.32,2.72],[4.37,2.7],[4.26,2.6],[4.23,2.52],[4.47,2.54],[4.41,2.68],[4.41,2.3],[4.41,2.38],[4.41,2.54],[4.29,2.42],[4.32,2.52],[4.46,2.62],[4.43,2.7]];

// Panel axis limits, ticks and titles
const panelTitles=['O','B','A','F','G','K','M','unknown','CSTAR'];
const xLimits=[[10.92,4.21],[11.782,8.448],[10.022,6.942],[6.403,5.353],[5.846,5.092],[5.265,4.476],[5.206,3.291],[6.314,4.472],[5.017,3.719]];
const yLimits=[[.531,3.108],[-.083,2.139],[.096,1.692],[.659,.976],[.77,1.051],[1,1.475],[1.84,2.532],[.812,1.814],[2.019,3.265]];
const xTicks=[[10,5],[11,10,9],[10,8],[6,5.5],[5.75,5.5,5.25],[5,4.5],[5,4],[6,5],[5,4]];
const xTickLabels=[['10','5'],['11','10','9'],['10','8'],['6.0','5.5'],['5.75','5.50','5.25'],['5.0','4.5'],['5','4'],['6','5'],['5','4']];
const yTicks=[[1,2,3],[0,1,2],[.5,1,1.5],[.7,.8,.9],[.8,.9,1],[1,1.2,1.4],[2,2.2,2.4],[1,1.5],[2.5,3]];
const yTickLabels=[['1','2','3'],['0','1','2'],['0.5','1.0','1.5'],['0.7','0.8','0.9'],['0.8','0.9','1.0'],['1.0','1.2','1.4'],['2.0','2.2','2.4'],['1.0','1.5'],['2.5','3.0']];
const xMinorSteps=[1,.2,.5,.1,.05,.1,.2,.2,.2];
const yMinorSteps=[.2,.2,.1,.02,.02,.05,.05,.1,.1];
// Density layers: [contour, density level]
const densityLayers=[
 [[oColumn,.3],[oLobe,.34],[oRing,.36],[oLink,.38],[oTopSpot,.43],[oRightSpot,.45],[oPale,.66],[oCore,.92],[oDeep,1]],
 [[bEdge,.36],[bWhite,.64],[bLobe,.72],[bCore,.92],[bDeep,1]],
 [[aEdge,.37],[aTail,.45],[aWhiteLeft,.63],[aSpot,.82],[aWhiteRight,.63],[aLobe,.74],[aCore,.93],[aDeep,1]],
 [[fEdge,.38],[fWhite,.62],[fCore,.9],[fDeepA,1],[fDeepB,.97]],
 [[gEdge,.4],[gWhite,.6],[gLobe,.7],[gCore,.92],[gDeep,1]],
 [[kEdge,.38],[kWhite,.62],[kCore,.92],[kDeep,1]],
 [[mLeftBlob,.31],[mLeftInner,.37],[mBridge,.27],[mMain,.33],[mCream,.43],[mWhite,.64],[mCore,.93],[mDeep,1]],
 [[uEdge,.37],[uWhite,.63],[uCore,.92],[uDeep,1]],
 [[cLower,.33],[cLeft,.36],[cMiddle,.38],[cTop,.4],[cCream,.47],[cPale,.66],[cCore,.92],[cDeep,1]]
];
const filledShapes=[[oCore],[bEdge],[aEdge],[fEdge],[gEdge],[kEdge],[mLeftBlob,mMain],[uEdge],[cDense]];
const loosePoints=[oPoints.concat(oRingPoints,oCapPoints,oSpotPoints),bStrays,[],fStrays,gStrays,[],mStrays,uStrays,cPoints.concat(cExtraPoints)];
const gapPoints=[oSpecks,bSpecks,aSpecks,fSpecks,gSpecks,kSpecks,mSpecks,uSpecks,cSpecks];
const blurWidths=[9,14,11,14,12,14,12,15,9];
const gapRadii=[2.3,1.7,1.4,1.5,1.2,1.6,1.8,1.8,2.3];

const colLeft=[102.6,488.3,873.4];
const rowTop=[87.7,527.6,966.7];
const boxW=309.7,boxH=335.5;
const NS='http://www.w3.org/2000/svg';
const root=document.getElementById('panels');
const defs=document.getElementById('defs');

function hexRgb(h){return [1,3,5].map(i=>parseInt(h.substr(i,2),16)/255);}
function cmap(c){
  const p=Math.max(0,Math.min(1,c))*(cmapStops.length-1);
  const i=Math.min(Math.floor(p),cmapStops.length-2),f=p-i;
  const a=hexRgb(cmapStops[i]),b=hexRgb(cmapStops[i+1]);
  return a.map((v,k)=>v+(b[k]-v)*f);
}
function levelToCmap(g){return g<=.25?.03:(g<.5?.03+(g-.25)/.25*.47:g);}
function make(tag,parent){const el=document.createElementNS(NS,tag);parent.appendChild(el);return el;}
function smoothPath(pts,sx,sy){
  const P=pts.map(p=>[sx(p[0]),sy(p[1])]),n=P.length;
  let d='M'+P[0][0].toFixed(1)+' '+P[0][1].toFixed(1);
  for(let i=0;i<n;i++){
    const a=P[(i-1+n)%n],b=P[i],c=P[(i+1)%n],e=P[(i+2)%n];
    d+='C'+(b[0]+(c[0]-a[0])/6).toFixed(1)+' '+(b[1]+(c[1]-a[1])/6).toFixed(1)+' '+(c[0]-(e[0]-b[0])/6).toFixed(1)+' '+(c[1]-(e[1]-b[1])/6).toFixed(1)+' '+c[0].toFixed(1)+' '+c[1].toFixed(1);
  }
  return d+'Z';
}
function buildFilter(id,sd){
  const f=make('filter',defs);
  f.setAttribute('id',id);
  f.setAttribute('color-interpolation-filters','sRGB');
  f.setAttribute('x','-5%');f.setAttribute('y','-5%');f.setAttribute('width','110%');f.setAttribute('height','110%');
  const b=make('feGaussianBlur',f);
  b.setAttribute('stdDeviation',sd);
  const t=make('feComponentTransfer',f);
  const tables=[[],[],[]];
  for(let i=0;i<=200;i++){const col=cmap(levelToCmap(i/200));tables[0].push(col[0].toFixed(3));tables[1].push(col[1].toFixed(3));tables[2].push(col[2].toFixed(3));}
  ['feFuncR','feFuncG','feFuncB'].forEach((n,k)=>{const fn=make(n,t);fn.setAttribute('type','table');fn.setAttribute('tableValues',tables[k].join(' '));});
}
function tickValues(lim,step){
  const lo=Math.min(lim[0],lim[1]),hi=Math.max(lim[0],lim[1]),out=[];
  for(let k=Math.ceil(lo/step-1e-6);k<=Math.floor(hi/step+1e-6);k++)out.push(+(k*step).toFixed(4));
  return out;
}

panelTitles.forEach((title,idx)=>{
  const L=colLeft[idx%3],T=rowTop[Math.floor(idx/3)],R=L+boxW,B=T+boxH;
  const xl=xLimits[idx],yl=yLimits[idx];
  const sx=v=>L+(v-xl[0])/(xl[1]-xl[0])*boxW;
  const sy=v=>T+(v-yl[0])/(yl[1]-yl[0])*boxH;
  const key=title.toLowerCase();
  const g=make('g',root);
  
  

  // clip = filled density shapes + loose points
  const clip=make('clipPath',defs);
  clip.setAttribute('id','clip-'+key);
  filledShapes[idx].forEach(shape=>{
    const p=make('path',clip);
    p.setAttribute('d',smoothPath(shape,sx,sy));
  });
  const dotR=idx===0||idx===8?2.35:2.1;
  loosePoints[idx].forEach(pt=>{
    const c=make('circle',clip);
    
    
    c.setAttribute('cx',sx(pt[0]).toFixed(1));
    c.setAttribute('cy',sy(pt[1]).toFixed(1));
    c.setAttribute('r',dotR);
  });

  // density field
  buildFilter('field-'+key,blurWidths[idx]);
  const clipG=make('g',g);
  clipG.setAttribute('clip-path','url(#clip-'+key+')');
  
  
  const field=make('g',clipG);
  field.setAttribute('filter','url(#field-'+key+')');
  const bg=make('rect',field);
  bg.setAttribute('x',L-40);bg.setAttribute('y',T-40);bg.setAttribute('width',boxW+80);bg.setAttribute('height',boxH+80);bg.setAttribute('fill','#000');
  densityLayers[idx].forEach(layer=>{
    const p=make('path',field);
    const v=Math.round(layer[1]*255);
    p.setAttribute('d',smoothPath(layer[0],sx,sy));
    p.setAttribute('fill','rgb('+v+','+v+','+v+')');
  });

  // gaps in the point cloud
  gapPoints[idx].forEach(pt=>{
    const c=make('circle',g);
    
    
    c.setAttribute('cx',sx(pt[0]).toFixed(1));
    c.setAttribute('cy',sy(pt[1]).toFixed(1));
    c.setAttribute('r',gapRadii[idx]);
    c.setAttribute('fill','#fff');
  });

  // frame
  const frame=make('rect',g);
  
  
  frame.setAttribute('x',L);frame.setAttribute('y',T);frame.setAttribute('width',boxW);frame.setAttribute('height',boxH);
  frame.setAttribute('fill','none');frame.setAttribute('stroke','#222');frame.setAttribute('stroke-width','1.5');

  // ticks
  let d='',dm='';
  const isMajor=(v,arr)=>arr.some(m=>Math.abs(m-v)<1e-6);
  tickValues(xl,xMinorSteps[idx]).forEach(v=>{
    const maj=isMajor(v,xTicks[idx]),len=maj?7:4,x=sx(v).toFixed(1);
    const seg='M'+x+' '+T+'v'+(-len)+'M'+x+' '+B+'v'+len;
    if(maj)d+=seg;else dm+=seg;
  });
  tickValues(yl,yMinorSteps[idx]).forEach(v=>{
    const maj=isMajor(v,yTicks[idx]),len=maj?7:4,y=sy(v).toFixed(1);
    const seg='M'+L+' '+y+'h'+(-len)+'M'+R+' '+y+'h'+len;
    if(maj)d+=seg;else dm+=seg;
  });
  const tMaj=make('path',g);
  
  
  tMaj.setAttribute('d',d);tMaj.setAttribute('stroke','#222');tMaj.setAttribute('stroke-width','1.4');tMaj.setAttribute('fill','none');
  const tMin=make('path',g);
  
  
  tMin.setAttribute('d',dm);tMin.setAttribute('stroke','#333');tMin.setAttribute('stroke-width','1.1');tMin.setAttribute('fill','none');

  // labels
  xTicks[idx].forEach((v,i)=>{
    const t=make('text',g);
    
    
    t.setAttribute('x',sx(v).toFixed(1));t.setAttribute('y',B+40);
    t.setAttribute('font-size','35');t.setAttribute('text-anchor','middle');
    t.textContent=xTickLabels[idx][i];
  });
  yTicks[idx].forEach((v,i)=>{
    const t=make('text',g);
    
    
    t.setAttribute('x',L-15);t.setAttribute('y',(sy(v)+11.7).toFixed(1));
    t.setAttribute('font-size','35');t.setAttribute('text-anchor','end');
    t.textContent=yTickLabels[idx][i];
  });
  const tt=make('text',g);
  
  
  tt.setAttribute('x',L+boxW/2);tt.setAttribute('y',T-13.5);
  tt.setAttribute('font-size','39');tt.setAttribute('text-anchor','middle');
  tt.textContent=title;
});
</script>
</body></html>
